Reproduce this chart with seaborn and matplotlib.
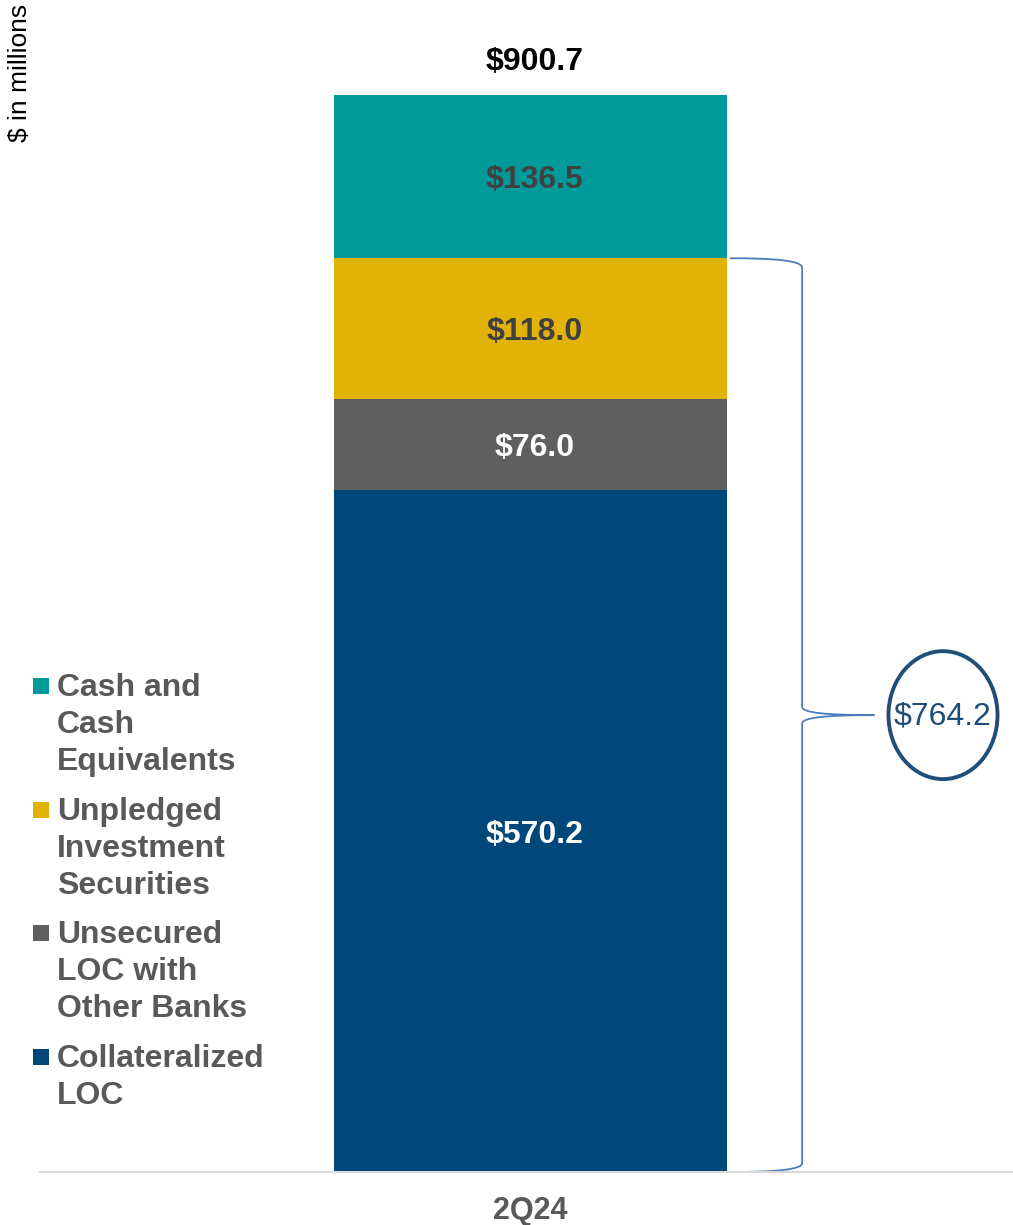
import matplotlib
matplotlib.use("Agg")
import matplotlib.pyplot as plt
from matplotlib.patches import Ellipse, Rectangle, PathPatch
from matplotlib.path import Path
import seaborn as sns

sns.set_theme(style="white")
plt.rcParams["font.family"] = ["Liberation Sans", "DejaVu Sans"]

# data ($ in millions), bottom to top
period = "2Q24"
categories = ["Collateralized\nLOC", "Unsecured\nLOC with\nOther Banks",
              "Unpledged\nInvestment\nSecurities", "Cash and\nCash\nEquivalents"]
values = [570.2, 76.0, 118.0, 136.5]
colors = ["#00477A", "#5F5F5F", "#E1B208", "#009A9A"]
label_colors = ["white", "white", "#404040", "#404040"]

cum = []
s = 0
for v in values:
    s += v
    cum.append(s)
total = cum[-1]
bracket_total = cum[2]

fig = plt.figure(figsize=(10.13, 12.25), dpi=100)
ax = fig.add_axes([40 / 1013, 53 / 1225, 973 / 1013, 1172 / 1225])

# stacked bar: draw cumulative heights from the top layer down
for i in range(len(values) - 1, -1, -1):
    sns.barplot(x=[period], y=[cum[i]], color=colors[i], width=0.8,
                linewidth=0, saturation=1, ax=ax)

ax.set_xlim(-0.9985, 0.9822)
ax.set_ylim(0, 980.2)

# segment labels
for i, v in enumerate(values):
    ax.text(0.008, cum[i] - v / 2 - 3, f"${v:.1f}", ha="center", va="center",
            fontsize=23, fontweight="bold", color=label_colors[i])
ax.text(0.008, total + 28, f"${total:.1f}", ha="center", va="center",
        fontsize=23, fontweight="bold", color="black")

# curly brace for the bottom three segments
x0, x1, xt = 0.406, 0.553, 0.70
ym = bracket_total / 2
verts = [
    (x0, bracket_total),
    (0.50, bracket_total), (x1, bracket_total - 2), (x1, bracket_total - 8),
    (x1, ym + 7),
    (x1, ym + 2), (0.60, ym), (xt, ym),
    (0.60, ym), (x1, ym - 2), (x1, ym - 7),
    (x1, 7.5),
    (x1, 2), (0.50, 0), (x0, 0),
]
codes = [Path.MOVETO,
         Path.CURVE4, Path.CURVE4, Path.CURVE4,
         Path.LINETO,
         Path.CURVE4, Path.CURVE4, Path.CURVE4,
         Path.CURVE4, Path.CURVE4, Path.CURVE4,
         Path.LINETO,
         Path.CURVE4, Path.CURVE4, Path.CURVE4]
ax.add_patch(PathPatch(Path(verts, codes), facecolor="none",
                       edgecolor="#4A7EBB", linewidth=1.3, clip_on=False))

ax.add_patch(Ellipse((0.8397, ym), 0.222, 107, facecolor="white",
                     edgecolor="#1F4E79", linewidth=2.8, clip_on=False))
ax.text(0.8397, ym - 1, f"${bracket_total:.1f}", ha="center", va="center",
        fontsize=23, color="#1F4E79")

# axes styling
for side in ["top", "right", "left"]:
    ax.spines[side].set_visible(False)
ax.spines["bottom"].set_color("#D9D9D9")
ax.spines["bottom"].set_linewidth(1.5)
ax.set_yticks([])
ax.set_xlabel("")
ax.set_ylabel("")
ax.tick_params(axis="x", length=0, pad=17, labelsize=22, labelcolor="#595959")
for t in ax.get_xticklabels():
    t.set_fontweight("bold")

fig.text(20 / 1013, 1 - 4 / 1225, "$ in millions", rotation=90,
         ha="center", va="top", fontsize=19, color="black")

# legend (top entry first)
legend_tops = [686, 810, 933, 1057]
for top, cat, col in zip(legend_tops, categories[::-1], colors[::-1]):
    fig.patches.append(Rectangle((33 / 1013, 1 - (top + 8) / 1225), 16 / 1013, 16 / 1225,
                                 transform=fig.transFigure, facecolor=col,
                                 edgecolor="none", figure=fig))
    fig.text(57 / 1013, 1 - (top - 13) / 1225, cat, ha="left", va="top",
             fontsize=23, fontweight="bold", color="#595959", linespacing=1.3)

fig.savefig("out.png", dpi=100)
